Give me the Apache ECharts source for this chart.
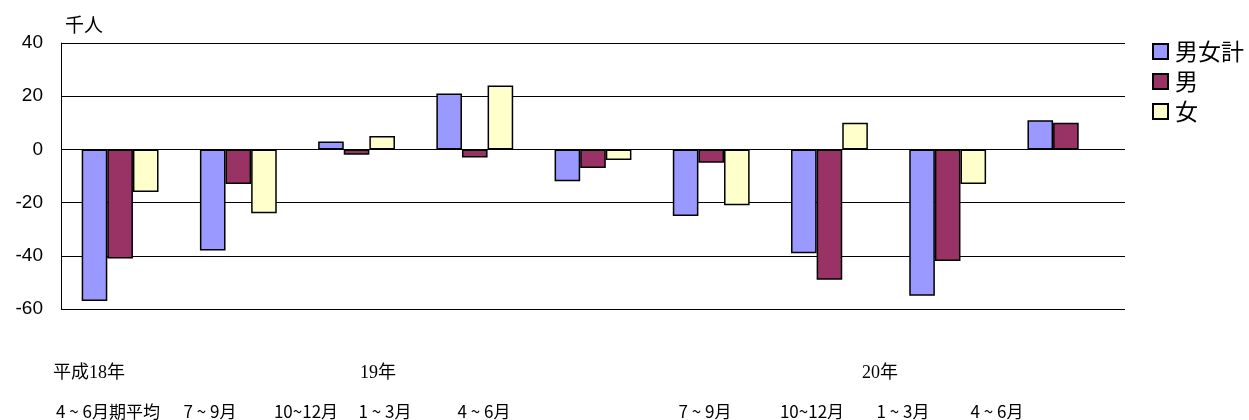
<!DOCTYPE html>
<html>
<head>
<meta charset="utf-8">
<script src="https://cdn.jsdelivr.net/npm/echarts@6/dist/echarts.min.js"></script>
<style>
	html, body { margin: 0; padding: 0; background: #fff; }
	#main { width: 1249px; height: 420px; }
</style>
</head>
<body>
<div id="main"></div>
<script>
// 期間（四半期）
var categories = ['H18_4-6', 'H18_7-9', 'H18_10-12', 'H19_1-3', 'H19_4-6', 'H19_7-9', 'H19_10-12', 'H20_1-3', 'H20_4-6'];
var seriesNames = ['男女計', '男', '女'];
// 前年同期差（千人）
var total = [-57, -38, 3, 21, -12, -25, -39, -55, 11];
var male = [-41, -13, -2, -3, -7, -5, -49, -42, 10];
var female = [-16, -24, 5, 24, -4, -21, 10, -13, null];
// 軸の目盛り
var yTicks = [-60, -40, -20, 0, 20, 40];
var unitLabel = '千人';
// 下部ラベル
var monthLabels = ['4 ~ 6月期平均', '7 ~ 9月', '10~12月', '1 ~ 3月', '4 ~ 6月', '7 ~ 9月', '10~12月', '1 ~ 3月', '4 ~ 6月'];
var yearLabels = ['平成18年', '19年', '20年'];

// ラベル位置（元の図に合わせる）
var monthX = [108, 210, 306, 385, 484, 705, 812, 903, 997];
var yearX = [53, 360, 862];

var chart = echarts.init(document.getElementById('main'));

var jp = '"Noto Sans CJK JP", sans-serif';
var graphics = [];
monthLabels.forEach(function(t, i) {
	graphics.push({
		type : 'text',
		style : {
			text : t,
			x : monthX[i],
			y : 412,
			fill : '#000',
			font : '17px ' + jp,
			textAlign : 'center',
			textVerticalAlign : 'middle'
		}
	});
});
yearLabels.forEach(function(t, i) {
	graphics.push({
		type : 'text',
		style : {
			text : t,
			x : yearX[i],
			y : 373,
			fill : '#000',
			font : '18px "Liberation Serif", ' + jp,
			textAlign : 'left',
			textVerticalAlign : 'middle'
		}
	});
});
graphics.push({
	type : 'text',
	style : {
		text : unitLabel,
		x : 65,
		y : 25,
		fill : '#000',
		font : '19px ' + jp,
		textAlign : 'left',
		textVerticalAlign : 'middle'
	}
});

var colors = ['#9999FF', '#993366', '#FFFFCC'];
var dataSets = [total, male, female];

var option = {
	animation : false,
	backgroundColor : '#fff',
	grid : {
		left : 61,
		right : 124,
		top : 43,
		bottom : 111
	},
	legend : {
		orient : 'vertical',
		left : 1147,
		top : 35,
		itemWidth : 15,
		itemHeight : 15,
		itemGap : 7,
		icon : 'rect',
		textStyle : {
			fontSize : 23,
			fontFamily : '"Noto Sans CJK JP"',
			color : '#000',
			padding : [0, 0, 0, 2]
		},
		data : seriesNames
	},
	xAxis : {
		type : 'category',
		data : categories,
		axisLine : { show : false },
		axisTick : { show : false },
		axisLabel : { show : false }
	},
	yAxis : {
		type : 'value',
		min : yTicks[0],
		max : yTicks[yTicks.length - 1],
		interval : 20,
		axisLine : { show : true, lineStyle : { color : '#000', width : 1 } },
		axisTick : { show : false },
		axisLabel : {
			color : '#000',
			fontSize : 19,
			fontFamily : '"Liberation Sans", Arial',
			margin : 18
		},
		splitLine : { lineStyle : { color : '#000', width : 1 } }
	},
	graphic : graphics,
	series : seriesNames.map(function(name, i) {
		return {
			name : name,
			type : 'bar',
			data : dataSets[i],
			barGap : '0%',
			barCategoryGap : '35%',
			itemStyle : {
				color : colors[i],
				borderColor : '#000',
				borderWidth : 1.5
			}
		};
	})
};

chart.setOption(option);
</script>
</body>
</html>
